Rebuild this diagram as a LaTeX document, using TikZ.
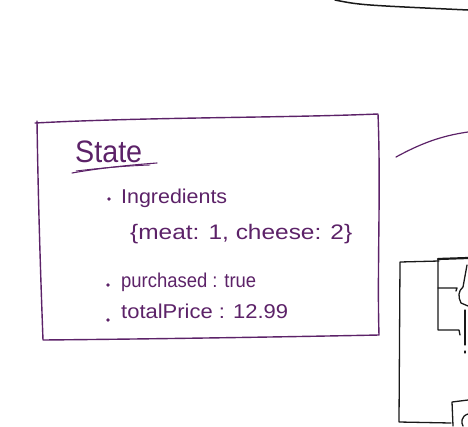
\documentclass[tikz,border=0pt]{standalone}
\usepackage{fontspec}
\usepackage{graphicx}
\setmainfont{Liberation Sans}
\definecolor{pen}{RGB}{92,34,104}
\definecolor{ink}{RGB}{25,25,25}
\newcommand{\hwtext}[3]{\resizebox{#1}{\height}{\fontsize{#2}{#2}\selectfont #3}}
\begin{document}
\begin{tikzpicture}[x=1pt,y=-1pt,
  penline/.style={draw=pen,line width=1.4pt,line cap=round,line join=round},
  inkline/.style={draw=ink,line width=1.3pt,line cap=round,line join=round},
  hand/.style={text=pen,inner sep=0pt,anchor=base west},
  bulletdot/.style={circle,fill=pen,inner sep=0pt,minimum size=3.6pt}]
\useasboundingbox (0,0) rectangle (468,426);
% state box
\draw[penline] (35,123) .. controls (150,117) and (280,118) .. (378,114)
  .. controls (381,190) and (377,270) .. (379,335)
  .. controls (280,337) and (150,339) .. (43,340)
  .. controls (40,260) and (38,190) .. (37,121);
% title
\node[hand] (title) at (75,162) {\hwtext{67pt}{31}{State}};
\draw[penline,line width=1.1pt] (72,173) .. controls (100,168) and (130,165) .. (157,163);
\draw[penline,line width=0.9pt] (76,171) .. controls (100,168) and (125,166) .. (150,165);
% items
\node[bulletdot] (b1) at (109,199) {};
\node[hand] (ingr) at (121,203) {\hwtext{106pt}{20}{Ingredients}};
\node[hand] (map) at (130,239) {\hwtext{222pt}{21}{\{meat: 1, cheese: 2\}}};
\node[bulletdot] (b2) at (108,285) {};
\node[hand] (purch) at (121,287) {\hwtext{135pt}{20}{purchased : true}};
\node[bulletdot] (b3) at (108,320) {};
\node[hand] (price) at (121,318) {\hwtext{167pt}{20}{totalPrice : 12.99}};
% purple arc on the right
\draw[penline,line width=1.2pt] (396,157) .. controls (420,144) and (440,136) .. (468,132);
% top black line
\draw[inkline,line width=1.5pt] (335,0) .. controls (360,5) .. (468,10);
% bottom right sketch
\draw[inkline] (439,261) -- (400,262) -- (399,422) -- (451,423);
\draw[inkline] (453,426) -- (452,402) -- (468,400);
\draw[inkline] (438,259) -- (438,330) -- (459,330) -- (460,335);
\draw[inkline] (438,288) -- (457,288) -- (456,291);
\draw[inkline,line width=2.2pt] (438,259) -- (468,258);
\draw[inkline] (467,265) -- (463,287) .. controls (458,291) and (458,297) .. (461,303) -- (468,306);
\draw[inkline] (465,310) -- (465,345);
\draw[inkline] (465,351) -- (465,353);
\draw[inkline] (468,414) .. controls (461,416) and (461,423) .. (463,426);
\end{tikzpicture}
\end{document}
